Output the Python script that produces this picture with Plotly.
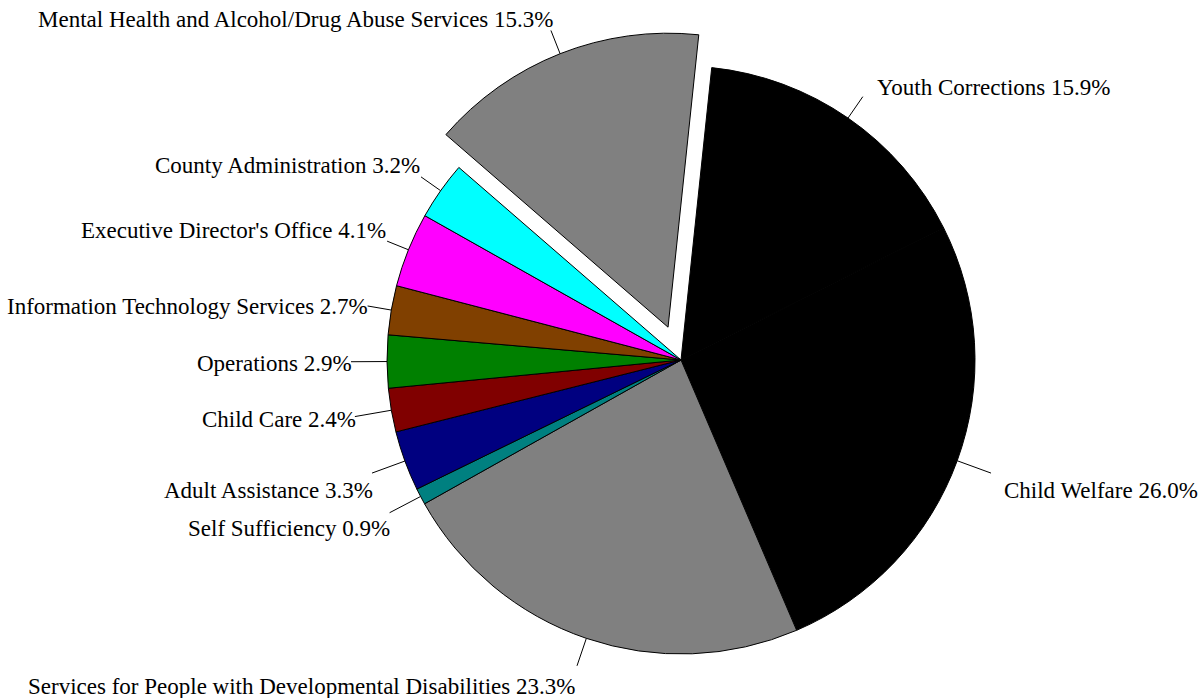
import math
import plotly.graph_objects as go

# Budget shares by division (percent of total)
divisions = [
    "Youth Corrections",
    "Child Welfare",
    "Services for People with Developmental Disabilities",
    "Self Sufficiency",
    "Adult Assistance",
    "Child Care",
    "Operations",
    "Information Technology Services",
    "Executive Director's Office",
    "County Administration",
    "Mental Health and Alcohol/Drug Abuse Services",
]
shares = [15.9, 26.0, 23.3, 0.9, 3.3, 2.4, 2.9, 2.7, 4.1, 3.2, 15.3]

slice_colors = [
    "#000000", "#000000", "#808080", "#008080", "#000080", "#800000",
    "#008000", "#804000", "#FF00FF", "#00FFFF", "#808080",
]
pulls = [0, 0, 0, 0, 0, 0, 0, 0, 0, 0, 0.12]

# Page / pie geometry in pixels
W, H = 1199, 698
CX, CY, R = 681, 360, 294
ROTATION = 6.0
FONT = dict(family="Liberation Serif, Times New Roman, serif", size=23, color="black")

# Leader-line length and label offset (dx, dy from the line end, anchor)
label_style = [
    (26, 12, -9, "left"),
    (36, 11, 17, "left"),
    (29, 0, 21, "right"),
    (35, 2, 16, "right"),
    (35, 3, 17, "right"),
    (37, 3, 3, "right"),
    (36, 3, 2, "right"),
    (24, 2, 1, "right"),
    (23, 1, -11, "right"),
    (24, 1, -11, "right"),
    (25, 4, -11, "right"),
]

max_pull = max(pulls)
half = R * (1 + max_pull)  # plotly shrinks the radius by 1/(1+maxPull)
domain_x = [(CX - half) / W, (CX + half) / W]
domain_y = [1 - (CY + half) / H, 1 - (CY - half) / H]

fig = go.Figure(
    go.Pie(
        labels=divisions,
        values=shares,
        sort=False,
        direction="clockwise",
        rotation=ROTATION,
        pull=pulls,
        marker=dict(colors=slice_colors, line=dict(color="black", width=1)),
        textinfo="none",
        hoverinfo="label+percent",
        showlegend=False,
        domain=dict(x=domain_x, y=domain_y),
    )
)

total = sum(shares)
shapes = []
annotations = []
cum = 0.0
for name, v, p, (lead, dx, dy, anchor) in zip(divisions, shares, pulls, label_style):
    mid = math.radians(ROTATION + 360.0 * (cum + v / 2) / total)
    cum += v
    sx, sy = math.sin(mid), -math.cos(mid)
    ox, oy = CX + p * R * sx, CY + p * R * sy
    x0, y0 = ox + R * sx, oy + R * sy
    x1, y1 = ox + (R + lead) * sx, oy + (R + lead) * sy
    shapes.append(dict(
        type="line", xref="paper", yref="paper",
        x0=x0 / W, y0=1 - y0 / H, x1=x1 / W, y1=1 - y1 / H,
        line=dict(color="black", width=1),
    ))
    annotations.append(dict(
        xref="paper", yref="paper",
        x=(x1 + dx) / W, y=1 - (y1 + dy) / H,
        xanchor=anchor, yanchor="middle",
        text=f"{name} {v:.1f}%",
        showarrow=False, font=FONT,
    ))

fig.update_layout(
    width=W, height=H,
    margin=dict(l=0, r=0, t=0, b=0),
    paper_bgcolor="white", plot_bgcolor="white",
    shapes=shapes, annotations=annotations,
)

fig.write_html("out.html")
